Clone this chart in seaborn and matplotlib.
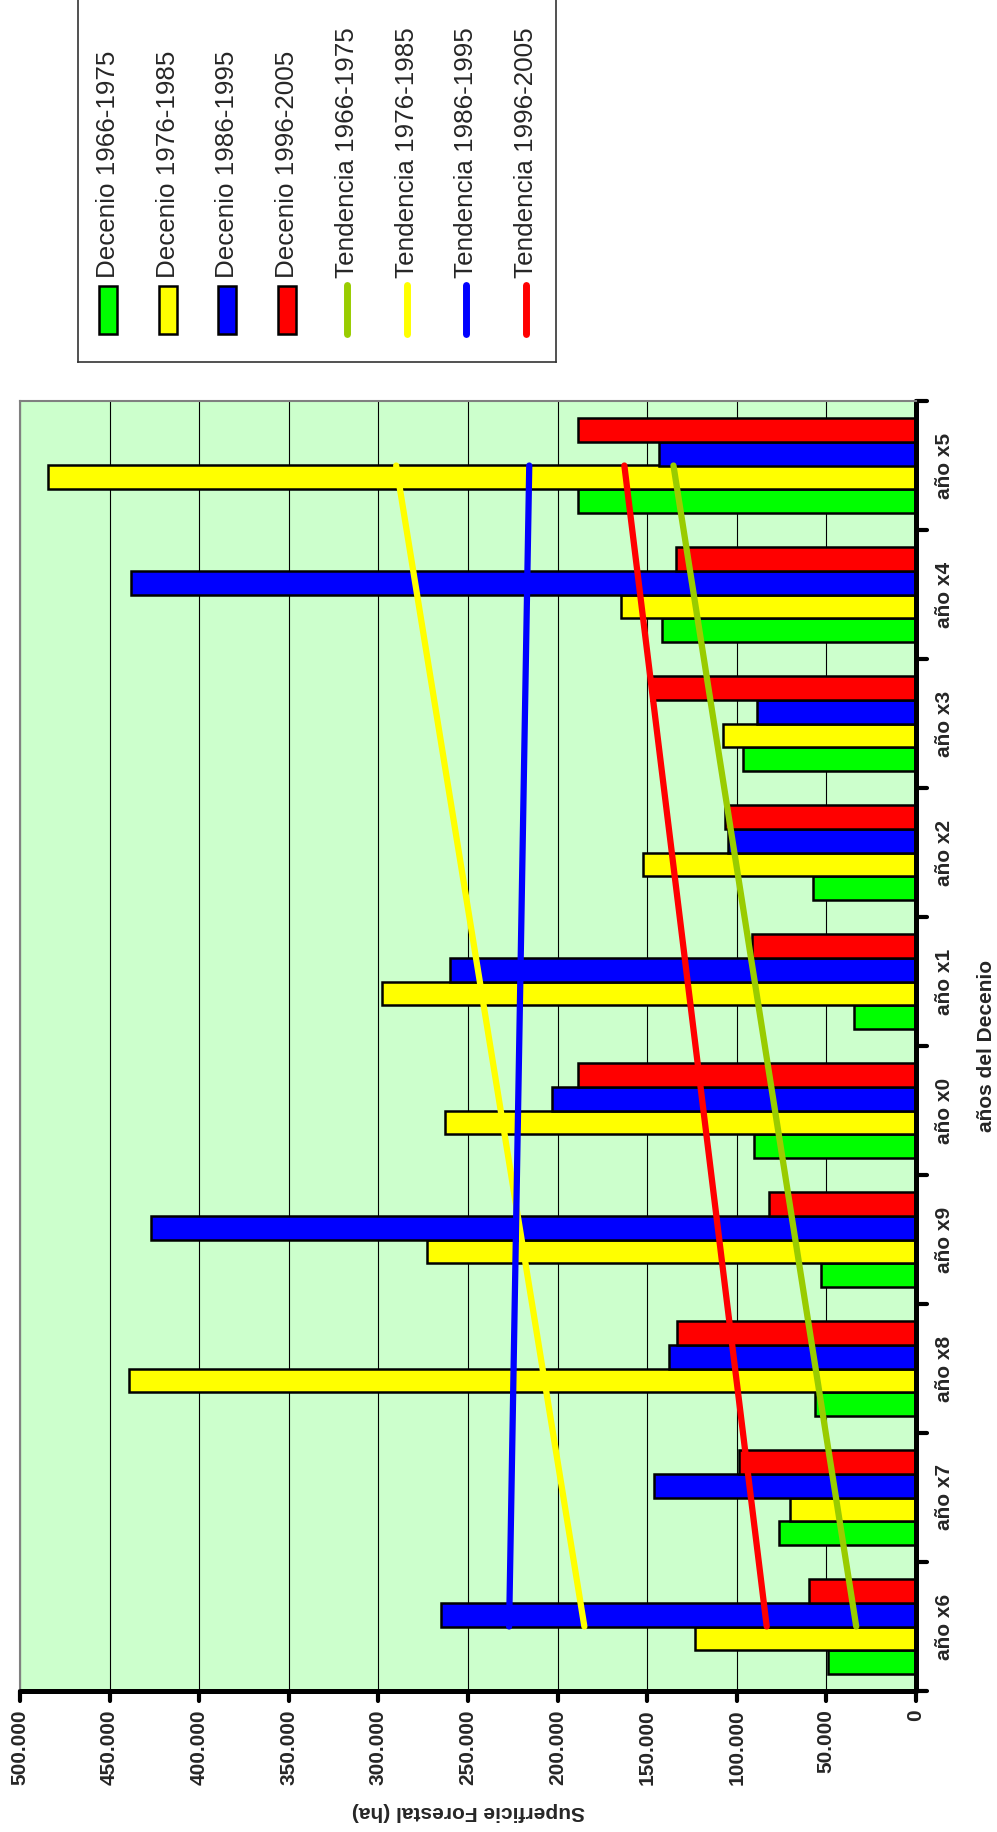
"""Superficie forestal por decenio, barras horizontales con tendencias lineales."""

import matplotlib

matplotlib.use("Agg")
import matplotlib.pyplot as plt
import numpy as np
import pandas as pd
import seaborn as sns
from matplotlib.markers import MarkerStyle
from matplotlib.patches import Rectangle

anios = ["año x6", "año x7", "año x8", "año x9", "año x0",
         "año x1", "año x2", "año x3", "año x4", "año x5"]
decenios = ["Decenio 1966-1975", "Decenio 1976-1985",
            "Decenio 1986-1995", "Decenio 1996-2005"]
tendencias = ["Tendencia 1966-1975", "Tendencia 1976-1985",
              "Tendencia 1986-1995", "Tendencia 1996-2005"]

sup_1966_1975 = [49100, 76200, 56300, 53100, 90400, 34500, 57300, 96500, 141700, 188400]
sup_1976_1985 = [123200, 70200, 439400, 273100, 262800, 298000, 152400, 107900, 164500, 484300]
sup_1986_1995 = [265000, 146400, 137800, 427000, 203000, 260000, 104700, 89000, 438000, 143500]
sup_1996_2005 = [59500, 98600, 133500, 81900, 188400, 91500, 106800, 147800, 133900, 188400]

colores_barras = ["#00FF00", "#FFFF00", "#0000FF", "#FF0000"]
colores_tendencia = ["#99CC00", "#FFFF00", "#0000FF", "#FF0000"]

ticks_valor = np.arange(0, 500001, 50000)

sns.set_theme(style="white")
plt.rcParams["font.family"] = ["Liberation Sans", "DejaVu Sans"]

series = [sup_1966_1975, sup_1976_1985, sup_1986_1995, sup_1996_2005]
df = pd.DataFrame({
    "anio": anios * len(decenios),
    "decenio": np.repeat(decenios, len(anios)),
    "superficie": np.concatenate(series),
})

W, H = 997, 1832
fig = plt.figure(figsize=(W / 100, H / 100), dpi=100)
ax = fig.add_axes([20 / W, 1 - 1691 / H, 896 / W, 1290 / H])

sns.barplot(
    data=df, x="superficie", y="anio", hue="decenio",
    order=anios, hue_order=decenios, palette=colores_barras,
    orient="h", width=0.73, errorbar=None, saturation=1,
    edgecolor="black", linewidth=1.8, legend=False, ax=ax,
)

# lineas de tendencia (ajuste lineal de cada decenio)
pos = np.arange(len(anios))
for vals, color in zip(series, colores_tendencia):
    coef = np.polyfit(pos, vals, 1)
    ax.plot(np.polyval(coef, pos), pos, color=color, lw=4.5,
            solid_capstyle="round", zorder=5)

ax.set_xlim(500000, 0)
ax.set_ylim(-0.5, len(anios) - 0.5)
ax.set_facecolor("#CCFFCC")
ax.set_axisbelow(True)
ax.grid(axis="x", color="black", lw=0.8)
ax.grid(axis="y", visible=False)

for lado in ["left", "top"]:
    ax.spines[lado].set_color("#808080")
    ax.spines[lado].set_linewidth(1.5)
for lado in ["right", "bottom"]:
    ax.spines[lado].set_color("black")
    ax.spines[lado].set_linewidth(3.6)
    ax.spines[lado].set_capstyle("round")

ax.set_xticks(ticks_valor)
ax.set_xticklabels(["0" if t == 0 else f"{t:,}".replace(",", ".") for t in ticks_valor],
                   rotation=90, fontweight="bold", fontsize=15)
ax.tick_params(axis="x", bottom=True, direction="out", length=7, width=3,
               color="black", pad=6)

ax.yaxis.tick_right()
ax.set_yticks(pos)
ax.set_yticklabels(anios, rotation=90, va="center", fontweight="bold", fontsize=15)
ax.set_yticks(np.arange(-0.5, len(anios), 1), minor=True)
ax.tick_params(axis="y", which="major", right=True, left=False, length=0, pad=14)
ax.tick_params(axis="y", which="minor", right=True, left=False, direction="out",
               length=8, width=3, color="black")

# extremos redondeados en las marcas, como en la hoja de calculo
for t in ax.xaxis.get_major_ticks() + ax.yaxis.get_minor_ticks():
    for ln in (t.tick1line, t.tick2line):
        ln.set_marker(MarkerStyle(ln.get_marker(), capstyle="round"))

ax.set_xlabel("Superficie Forestal (ha)", rotation=180, fontweight="bold",
              fontsize=15, ha="center", va="center")
ax.xaxis.set_label_coords(0.5, (1691 - 1812) / 1290)
ax.yaxis.set_label_position("right")
ax.set_ylabel("años del Decenio", rotation=90, fontweight="bold",
              fontsize=15, ha="center", va="center")
ax.yaxis.set_label_coords((986 - 20) / 896, 0.5)

# leyenda dibujada a mano (texto girado)
lax = fig.add_axes([78 / W, 1 - 362 / H, 478 / W, 402 / H])
lax.set_xlim(78, 556)
lax.set_ylim(362, -40)
lax.set_xticks([])
lax.set_yticks([])
lax.set_facecolor("white")
for sp in lax.spines.values():
    sp.set_color("#333333")
    sp.set_linewidth(1.2)

nombres = decenios + tendencias
for i, nombre in enumerate(nombres):
    xc = 108 + i * 59.7
    if i < len(decenios):
        lax.add_patch(Rectangle((xc - 9, 286), 18, 48, facecolor=colores_barras[i],
                                edgecolor="black", lw=1.8))
    else:
        lax.plot([xc, xc], [285, 334], color=colores_tendencia[i - len(decenios)],
                 lw=5, solid_capstyle="round")
    lax.text(xc, 278, nombre, rotation=90, ha="center", va="bottom", fontsize=18.7)

fig.savefig("out.png", dpi=100)
plt.close(fig)
